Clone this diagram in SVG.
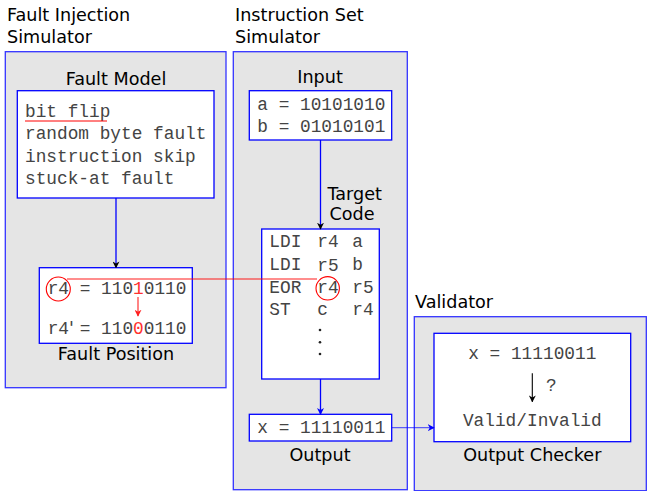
<svg xmlns="http://www.w3.org/2000/svg" width="647" height="491" viewBox="0 0 647 491">
<defs>
<style>
.panel{fill:#e5e5e5;stroke:#3333ff;stroke-width:1.3}
.box{fill:#ffffff;stroke:#0000ff;stroke-width:1.3}
.t{font-family:"DejaVu Sans",sans-serif;font-size:17.6px;fill:#000}
.l{font-family:"DejaVu Sans",sans-serif;font-size:17.6px;fill:#000}
.m{font-family:"Liberation Mono",monospace;font-size:17.8px;fill:#444444}
.red{fill:#ff3030}
.conn{fill:none;stroke:#0000ff;stroke-width:1.3}
</style>
<marker id="ak" viewBox="0 0 10 10" refX="9" refY="5" markerWidth="7" markerHeight="7" orient="auto" markerUnits="userSpaceOnUse">
<path d="M0,0 L10,5 L0,10 L3,5 Z" fill="#000"/>
</marker>
<marker id="ab" viewBox="0 0 10 10" refX="9" refY="5" markerWidth="7" markerHeight="7" orient="auto" markerUnits="userSpaceOnUse">
<path d="M0,0 L10,5 L0,10 L3,5 Z" fill="#0000ff"/>
</marker>
<marker id="ar" viewBox="0 0 10 10" refX="9" refY="5" markerWidth="7" markerHeight="7" orient="auto" markerUnits="userSpaceOnUse">
<path d="M0,0 L10,5 L0,10 L3,5 Z" fill="#ff2020"/>
</marker>
</defs>
<rect width="647" height="491" fill="#ffffff"/>

<g id="fault-injection-simulator">
<text class="t" x="7" y="21">Fault Injection</text>
<text class="t" x="7" y="43">Simulator</text>
<rect class="panel" x="5.3" y="51.7" width="220.7" height="336"/>
</g>

<g id="instruction-set-simulator">
<text class="t" x="235" y="21">Instruction Set</text>
<text class="t" x="235" y="43">Simulator</text>
<rect class="panel" x="233.3" y="51.7" width="174" height="438"/>
</g>

<g id="validator">
<text class="t" x="415" y="308">Validator</text>
<rect class="panel" x="414.3" y="316.7" width="232" height="174"/>
</g>

<g id="fault-model">
<text class="l" x="116" y="84.5" text-anchor="middle">Fault Model</text>
<rect class="box" x="17.3" y="90.7" width="196.7" height="107.3"/>
<text class="m" x="25" y="116.5">bit flip</text>
<line x1="25" y1="121" x2="107" y2="121" stroke="#ff0000" stroke-width="1"/>
<text class="m" x="25" y="139">random byte fault</text>
<text class="m" x="25" y="161.5">instruction skip</text>
<text class="m" x="25" y="184">stuck-at fault</text>
</g>

<g id="fault-position">
<rect class="box" x="39.3" y="267.7" width="153" height="75.6"/>
<text class="m" x="47.7" y="294.3">r4 = 110<tspan class="red">1</tspan>0110</text>
<text class="m" x="47.7" y="334">r4<tspan style="font-family:'DejaVu Sans',sans-serif">'</tspan><tspan dx="5.8">= 110</tspan><tspan class="red">0</tspan>0110</text>
<circle cx="58.3" cy="289" r="12" fill="none" stroke="#ff0000" stroke-width="1.1"/>
<line x1="138" y1="297" x2="138" y2="316" stroke="#ff2020" stroke-width="1.1" marker-end="url(#ar)"/>
<text class="l" x="116" y="359.5" text-anchor="middle">Fault Position</text>
</g>

<g id="input">
<text class="l" x="320" y="83" text-anchor="middle">Input</text>
<rect class="box" x="249.3" y="90.7" width="142.4" height="49.3"/>
<text class="m" x="257.3" y="110">a = 10101010</text>
<text class="m" x="257.3" y="131.7">b = 01010101</text>
</g>

<g id="target-code">
<text class="l" x="327.5" y="200">Target</text>
<text class="l" x="329.5" y="220">Code</text>
<rect class="box" x="261.7" y="229" width="117.6" height="150"/>
<text class="m" x="269.3" y="247.3">LDI</text><text class="m" x="317.3" y="247.3">r4</text><text class="m" x="352.3" y="247.3">a</text>
<text class="m" x="269.3" y="270">LDI</text><text class="m" x="317.3" y="271">r5</text><text class="m" x="352.3" y="270">b</text>
<text class="m" x="269.3" y="292.7">EOR</text><text class="m" x="317.3" y="292.7">r4</text><text class="m" x="352.3" y="292.7">r5</text>
<text class="m" x="269.3" y="315">ST</text><text class="m" x="317.3" y="315">c</text><text class="m" x="352.3" y="315">r4</text>
<circle cx="320" cy="330" r="1.3" fill="#222"/>
<circle cx="320" cy="342.3" r="1.3" fill="#222"/>
<circle cx="320" cy="354" r="1.3" fill="#222"/>
<circle cx="327.7" cy="288.3" r="11.7" fill="none" stroke="#ff0000" stroke-width="1.1"/>
</g>

<g id="output">
<rect class="box" x="249.3" y="414.3" width="142.4" height="26.7"/>
<text class="m" x="257.3" y="433.3">x = 11110011</text>
<text class="l" x="320" y="460.5" text-anchor="middle">Output</text>
</g>

<g id="output-checker">
<rect class="box" x="434" y="333.3" width="196.7" height="108.4"/>
<text class="m" x="532.3" y="359" text-anchor="middle">x = 11110011</text>
<line x1="532.3" y1="373.3" x2="532.3" y2="401.7" stroke="#000" stroke-width="1.1" marker-end="url(#ak)"/>
<text class="m" x="546" y="390.7">?</text>
<text class="m" x="532.3" y="425.7" text-anchor="middle">Valid/Invalid</text>
<text class="l" x="532.3" y="460.5" text-anchor="middle">Output Checker</text>
</g>

<g id="connectors">
<line class="conn" x1="116" y1="198" x2="116" y2="267.7" marker-end="url(#ak)"/>
<line class="conn" x1="320.5" y1="140" x2="320.5" y2="229" marker-end="url(#ak)"/>
<line class="conn" x1="320.5" y1="379" x2="320.5" y2="414.3" marker-end="url(#ab)"/>
<line x1="391.7" y1="427.7" x2="434" y2="427.7" stroke="#0000ff" stroke-opacity="0.6" stroke-width="1.3" marker-end="url(#ab)"/>
<line x1="67" y1="279" x2="317" y2="279" stroke="#ff0000" stroke-opacity="0.6" stroke-width="1.3"/>
</g>
</svg>
